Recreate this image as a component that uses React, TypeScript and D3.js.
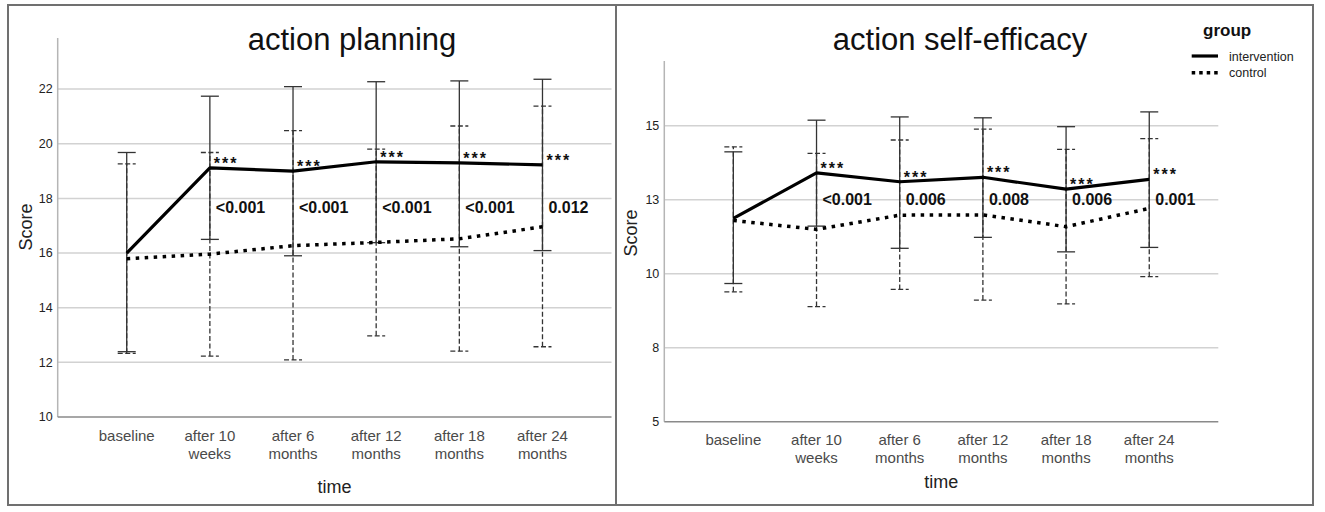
import React from 'react';
import * as d3 from 'd3';

const categories: string[][] = [
  ['baseline'],
  ['after 10', 'weeks'],
  ['after 6', 'months'],
  ['after 12', 'months'],
  ['after 18', 'months'],
  ['after 24', 'months'],
];

// action planning
const planningTicks = [10, 12, 14, 16, 18, 20, 22];
const planningTickLabels = ['10', '12', '14', '16', '18', '20', '22'];
const planningIntMean = [16.0, 19.12, 19.0, 19.34, 19.3, 19.23];
const planningIntLow = [12.39, 16.5, 15.9, 16.38, 16.23, 16.09];
const planningIntHigh = [19.68, 21.74, 22.09, 22.27, 22.3, 22.36];
const planningCtlMean = [15.79, 15.96, 16.27, 16.39, 16.52, 16.96];
const planningCtlLow = [12.33, 12.23, 12.09, 12.97, 12.41, 12.57];
const planningCtlHigh = [19.26, 19.68, 20.48, 19.8, 20.65, 21.38];
const planningStars = ['', '***', '***', '***', '***', '***'];
const planningP = ['', '<0.001', '<0.001', '<0.001', '<0.001', '0.012'];

// action self-efficacy
const efficacyTicks = [5, 7.5, 10, 12.5, 15];
const efficacyTickLabels = ['5', '8', '10', '13', '15'];
const efficacyIntMean = [11.87, 13.41, 13.11, 13.26, 12.86, 13.19];
const efficacyIntLow = [9.67, 11.61, 10.86, 11.23, 10.74, 10.89];
const efficacyIntHigh = [14.12, 15.19, 15.3, 15.27, 14.97, 15.47];
const efficacyCtlMean = [11.8, 11.5, 11.98, 11.99, 11.59, 12.21];
const efficacyCtlLow = [9.39, 8.89, 9.47, 9.11, 8.98, 9.9];
const efficacyCtlHigh = [14.29, 14.07, 14.52, 14.89, 14.2, 14.57];
const efficacyStars = ['', '***', '***', '***', '***', '***'];
const efficacyP = ['', '<0.001', '0.006', '0.008', '0.006', '0.001'];

const legendItems = ['intervention', 'control'];

const FONT = 'Arial, "Liberation Sans", Helvetica, sans-serif';
const DOT = '3.5,5.5';
const DASH = '5,2.5';

type PanelProps = {
  title: string;
  titleX: number;
  left: number;
  right: number;
  top: number;
  bottom: number;
  domain: [number, number];
  ticks: number[];
  tickLabels: string[];
  intMean: number[];
  intLow: number[];
  intHigh: number[];
  ctlMean: number[];
  ctlLow: number[];
  ctlHigh: number[];
  stars: string[];
  pvals: string[];
  pValue: number;
  scoreX: number;
  scoreY: number;
  catY: number;
  timeY: number;
};

function Panel(p: PanelProps) {
  const x = d3
    .scalePoint<number>()
    .domain(categories.map((_, i) => i))
    .range([p.left, p.right])
    .padding(0.83);
  const y = d3.scaleLinear().domain(p.domain).range([p.bottom, p.top]);
  const line = d3
    .line<number>()
    .x((_, i) => x(i) as number)
    .y((d) => y(d));
  const cap = 9;
  const cx = (p.left + p.right) / 2;

  return (
    <g>
      {p.ticks.slice(1).map((t) => (
        <line key={'g' + t} x1={p.left} x2={p.right} y1={y(t)} y2={y(t)} stroke="#d2d2d2" strokeWidth={1.5} />
      ))}
      <line x1={p.left} x2={p.left} y1={p.top} y2={p.bottom} stroke="#b5b5b5" strokeWidth={1.5} />
      <line x1={p.left} x2={p.right} y1={p.bottom} y2={p.bottom} stroke="#8a8a8a" strokeWidth={1.5} />
      {p.ticks.map((t, i) => (
        <text key={'t' + t} x={p.left - 5} y={y(t) + 4.3} textAnchor="end" fontSize={12.5} fill="#222" fontFamily={FONT}>
          {p.tickLabels[i]}
        </text>
      ))}
      {categories.map((lines, i) =>
        lines.map((l, j) => (
          <text key={'c' + i + j} x={x(i)} y={p.catY + j * 18} textAnchor="middle" fontSize={15} fill="#4a4a4a" fontFamily={FONT}>
            {l}
          </text>
        ))
      )}
      <text x={cx} y={p.timeY} textAnchor="middle" fontSize={18} fill="#222" fontFamily={FONT}>
        time
      </text>
      <text
        transform={`translate(${p.scoreX},${p.scoreY}) rotate(-90)`}
        textAnchor="middle"
        fontSize={18}
        fill="#222"
        fontFamily={FONT}
      >
        Score
      </text>
      <text x={p.titleX} y={50} textAnchor="middle" fontSize={31} fill="#111" fontFamily={FONT}>
        {p.title}
      </text>

      {categories.map((_, i) => {
        const xi = x(i) as number;
        return (
          <g key={'ce' + i} stroke="#333" strokeWidth={1.3} strokeDasharray={DASH} fill="none">
            <line x1={xi} x2={xi} y1={y(p.ctlLow[i])} y2={y(p.ctlHigh[i])} />
            <line x1={xi - cap} x2={xi + cap} y1={y(p.ctlLow[i])} y2={y(p.ctlLow[i])} />
            <line x1={xi - cap} x2={xi + cap} y1={y(p.ctlHigh[i])} y2={y(p.ctlHigh[i])} />
          </g>
        );
      })}
      {categories.map((_, i) => {
        const xi = x(i) as number;
        return (
          <g key={'ie' + i} stroke="#333" strokeWidth={1.3} fill="none">
            <line x1={xi} x2={xi} y1={y(p.intLow[i])} y2={y(p.intHigh[i])} />
            <line x1={xi - cap} x2={xi + cap} y1={y(p.intLow[i])} y2={y(p.intLow[i])} />
            <line x1={xi - cap} x2={xi + cap} y1={y(p.intHigh[i])} y2={y(p.intHigh[i])} />
          </g>
        );
      })}
      <path d={line(p.ctlMean) || ''} fill="none" stroke="#000" strokeWidth={3.5} strokeDasharray={DOT} />
      <path d={line(p.intMean) || ''} fill="none" stroke="#000" strokeWidth={3.2} strokeLinejoin="round" />

      {categories.map((_, i) => {
        const xi = x(i) as number;
        return (
          <g key={'a' + i} fontFamily={FONT}>
            {p.stars[i] && (
              <text x={xi + 4} y={y(p.intMean[i]) + 1} fontSize={16} fontWeight="bold" letterSpacing={2} fill="#111">
                {p.stars[i]}
              </text>
            )}
            {p.pvals[i] && (
              <text x={xi + 6} y={y(p.pValue) + 5.5} fontSize={16} fontWeight="bold" fill="#111">
                {p.pvals[i]}
              </text>
            )}
          </g>
        );
      })}
    </g>
  );
}

export default function App() {
  return (
    <svg
      width={1325}
      height={512}
      style={{ position: 'absolute', left: 0, top: 0, display: 'block', background: '#fff' }}
    >
      <rect x={0} y={0} width={1325} height={512} fill="#fff" />
      <rect x={8} y={5} width={608} height={500} fill="none" stroke="#707070" strokeWidth={2} />
      <rect x={616} y={5} width={697} height={500} fill="none" stroke="#707070" strokeWidth={2} />

      <Panel
        title="action planning"
        titleX={352}
        left={57.7}
        right={611.5}
        top={38}
        bottom={417}
        domain={[10, 23.87]}
        ticks={planningTicks}
        tickLabels={planningTickLabels}
        intMean={planningIntMean}
        intLow={planningIntLow}
        intHigh={planningIntHigh}
        ctlMean={planningCtlMean}
        ctlLow={planningCtlLow}
        ctlHigh={planningCtlHigh}
        stars={planningStars}
        pvals={planningP}
        pValue={17.65}
        scoreX={32}
        scoreY={227}
        catY={440.5}
        timeY={493}
      />
      <Panel
        title="action self-efficacy"
        titleX={960}
        left={664.3}
        right={1218.3}
        top={61}
        bottom={421.7}
        domain={[5, 17.19]}
        ticks={efficacyTicks}
        tickLabels={efficacyTickLabels}
        intMean={efficacyIntMean}
        intLow={efficacyIntLow}
        intHigh={efficacyIntHigh}
        ctlMean={efficacyCtlMean}
        ctlLow={efficacyCtlLow}
        ctlHigh={efficacyCtlHigh}
        stars={efficacyStars}
        pvals={efficacyP}
        pValue={12.52}
        scoreX={637}
        scoreY={233}
        catY={444.5}
        timeY={488}
      />

      <g fontFamily={FONT}>
        <text x={1203} y={36} fontSize={17} fontWeight="bold" fill="#111">
          group
        </text>
        {legendItems.map((name, i) => (
          <g key={name}>
            <line
              x1={1191.7}
              x2={1218}
              y1={56 + i * 16.7}
              y2={56 + i * 16.7}
              stroke="#000"
              strokeWidth={i === 0 ? 3.2 : 3.5}
              strokeDasharray={i === 0 ? undefined : '3.5,4'}
            />
            <text x={1229} y={60.5 + i * 16.7} fontSize={12.5} fill="#222">
              {name}
            </text>
          </g>
        ))}
      </g>
    </svg>
  );
}
